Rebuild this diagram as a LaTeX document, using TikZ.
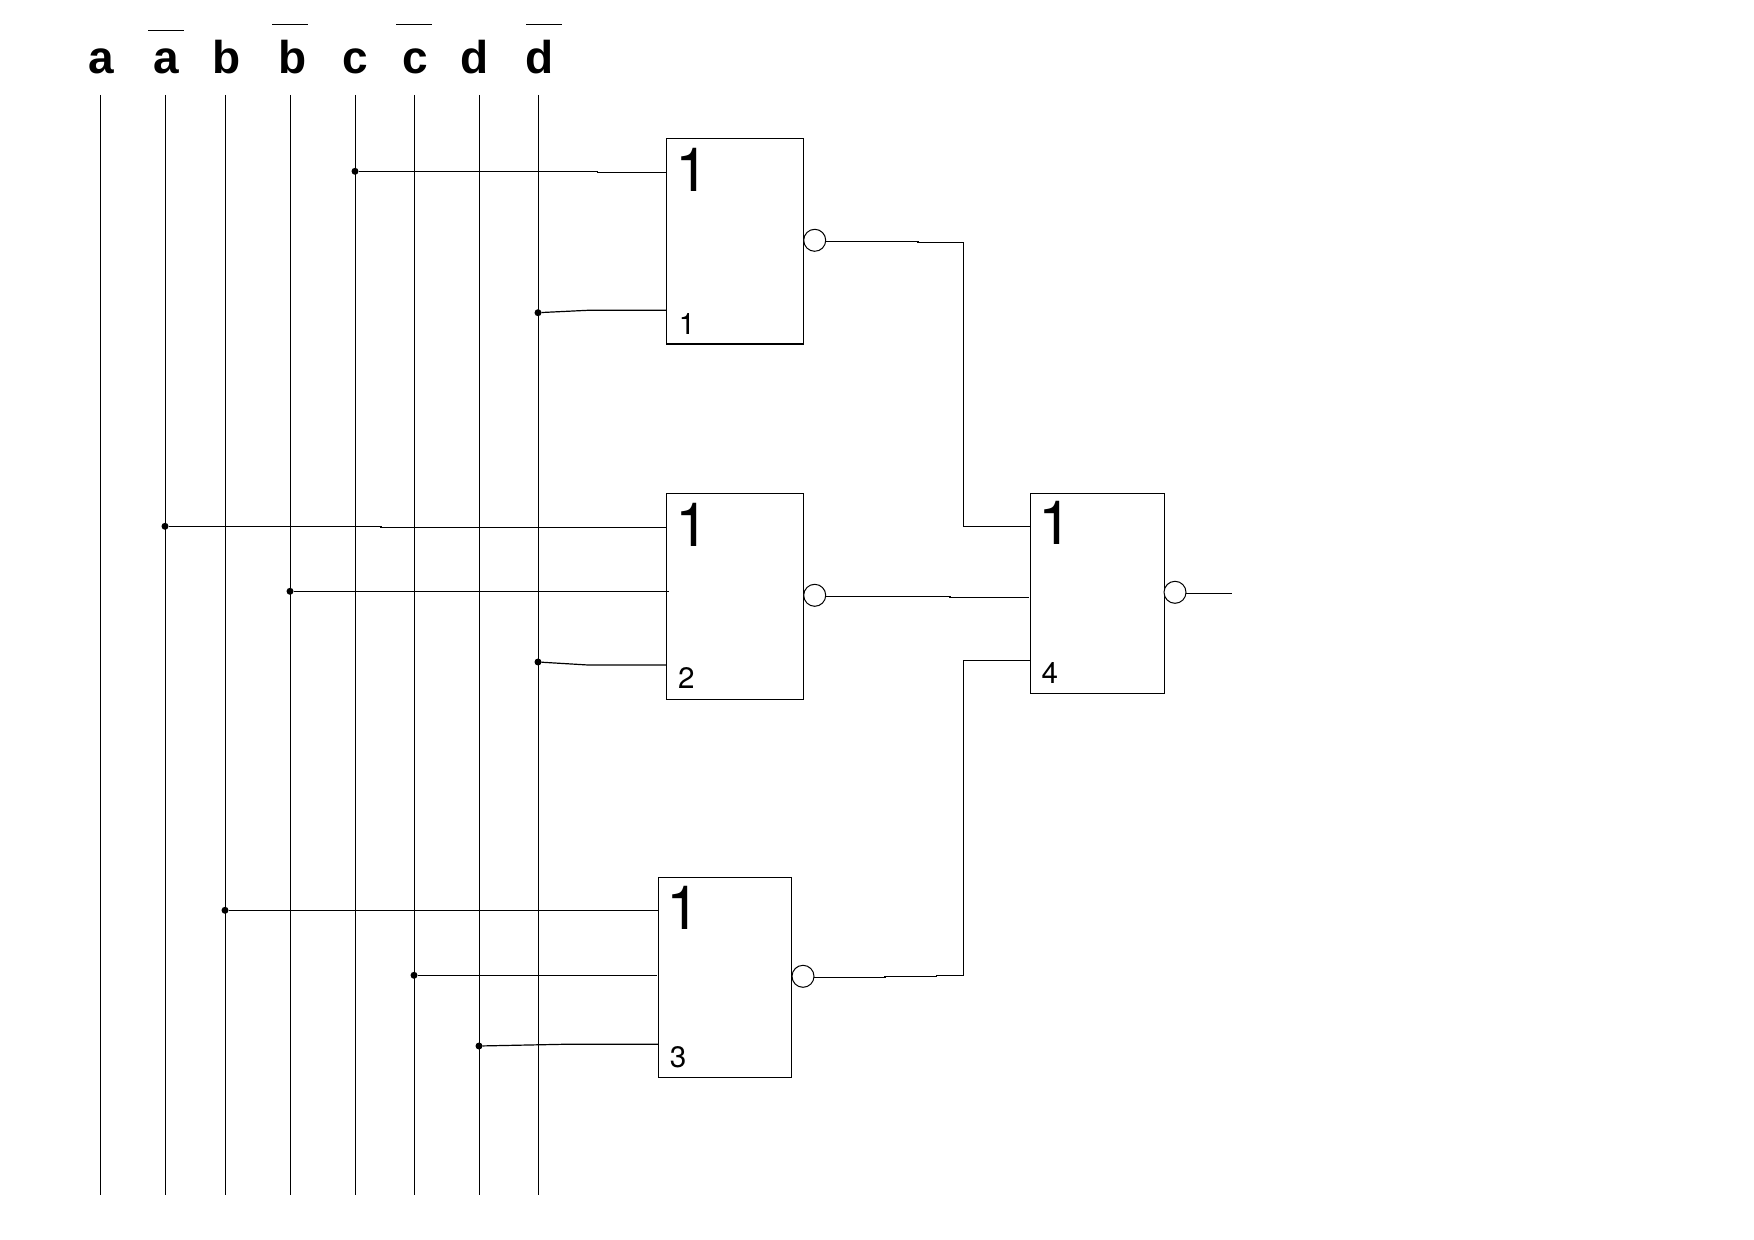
\documentclass[tikz,border=0pt]{standalone}
\usepackage{fontspec}
\setmainfont{Liberation Sans}
\newfontfamily\gatefont{TeX Gyre Heros}
\usetikzlibrary{positioning}
\tikzset{
  railwire/.style  = {draw=black, line width=0.6pt},
  wire/.style      = {draw=black, line width=0.6pt, line join=miter},
  overbar/.style   = {draw=black, line width=0.6pt},
  wiredot/.style   = {circle, fill=black, minimum size=3.5pt, inner sep=0pt, outer sep=0pt},
  bubble/.style    = {circle, draw=black, fill=white, line width=0.5pt,
                      minimum size=11pt, inner sep=0pt, outer sep=0pt},
  gatewide/.style  = {rectangle, draw=black, line width=0.6pt, minimum width=68.7pt,
                      minimum height=102.9pt, inner sep=0pt, outer sep=0pt},
  gatenarrow/.style= {gatewide, minimum width=66.8pt, minimum height=100pt},
  gateone/.style   = {font=\gatefont\fontsize{30.5}{33}\selectfont, anchor=base, inner sep=0pt},
  gatenum/.style   = {font=\gatefont\fontsize{14.8}{17}\selectfont, anchor=base, inner sep=0pt},
  railname/.style  = {font=\fontsize{23}{25}\selectfont\bfseries, anchor=base, inner sep=0pt},
}
\begin{document}
\begin{tikzpicture}[x=0.5pt, y=-0.5pt]
  \useasboundingbox (0,0) rectangle (1754,1240);
  % input names
  \node[railname] (namea)  at (101.7,73.3) {a};
  \node[railname] (nameab) at (166.7,73.3) {a};
  \node[railname] (nameb)  at (227,73.3) {b};
  \node[railname] (namebb) at (292.5,73.3) {b};
  \node[railname] (namec)  at (355.7,73.3) {c};
  \node[railname] (namecb) at (415,73.3) {c};
  \node[railname] (named)  at (475,73.3) {d};
  \node[railname] (namedb) at (539.3,73.3) {d};
  \coordinate (barab1) at (148,30.3);
  \coordinate (barab2) at (184,30.3);
  \coordinate (barbb1) at (272,24.3);
  \coordinate (barbb2) at (308,24.3);
  \coordinate (barcb1) at (396,24.3);
  \coordinate (barcb2) at (432,24.3);
  \coordinate (bardb1) at (526,24.3);
  \coordinate (bardb2) at (562,24.3);
  \draw[overbar] (barab1) -- (barab2);
  \draw[overbar] (barbb1) -- (barbb2);
  \draw[overbar] (barcb1) -- (barcb2);
  \draw[overbar] (bardb1) -- (bardb2);
  % rails
  \coordinate (topa)  at (100.3,95);
  \coordinate (bota)  at (100.3,1194.7);
  \coordinate (topab) at (165.3,95);
  \coordinate (botab) at (165.3,1194.7);
  \coordinate (topb)  at (225.3,95);
  \coordinate (botb)  at (225.3,1194.7);
  \coordinate (topbb) at (290.3,95);
  \coordinate (botbb) at (290.3,1194.7);
  \coordinate (topc)  at (355.3,95);
  \coordinate (botc)  at (355.3,1194.7);
  \coordinate (topcb) at (414.3,95);
  \coordinate (botcb) at (414.3,1194.7);
  \coordinate (topd)  at (479.3,95);
  \coordinate (botd)  at (479.3,1194.7);
  \coordinate (topdb) at (538.3,95);
  \coordinate (botdb) at (538.3,1194.7);
  \draw[railwire] (topa) -- (bota);
  \draw[railwire] (topab) -- (botab);
  \draw[railwire] (topb) -- (botb);
  \draw[railwire] (topbb) -- (botbb);
  \draw[railwire] (topc) -- (botc);
  \draw[railwire] (topcb) -- (botcb);
  \draw[railwire] (topd) -- (botd);
  \draw[railwire] (topdb) -- (botdb);
  % gates
  \node[gatewide]   (gatea) at (735,241.15) {};
  \node[gatewide]   (gateb) at (735,596.3) {};
  \node[gatenarrow] (gatec) at (725,977.3) {};
  \node[gatenarrow] (gated) at (1097.3,593.3) {};
  \node[gateone] (onea) at (692,192) {1};
  \node[gateone] (oneb) at (692,546) {1};
  \node[gateone] (onec) at (683,929.7) {1};
  \node[gateone] (oned) at (1055,544.3) {1};
  \node[gatenum] (numa) at (687,334.7) {1};
  \node[gatenum] (numb) at (686.3,688.7) {2};
  \node[gatenum] (numc) at (678,1067.7) {3};
  \node[gatenum] (numd) at (1049.8,683.7) {4};
  \node[bubble] (bubblea) at (814.7,240.3) {};
  \node[bubble] (bubbleb) at (814.7,595.3) {};
  \node[bubble] (bubblec) at (803,976.3) {};
  \node[bubble] (bubbled) at (1175,592.3) {};
  % taps on the rails
  \node[wiredot] (tapc)  at (355,171.3) {};
  \node[wiredot] (tapdb) at (538,312.7) {};
  \node[wiredot] (tapab) at (165,526.3) {};
  \node[wiredot] (tapbb) at (290,591.3) {};
  \node[wiredot] (tapdc) at (538,662) {};
  \node[wiredot] (tapb)  at (225,910.3) {};
  \node[wiredot] (tapcb) at (414,975.3) {};
  \node[wiredot] (tapd)  at (479,1046) {};
  % gate inputs
  \coordinate (ina1) at (597.5,171.3);
  \coordinate (ina2) at (597.5,172.3);
  \coordinate (ina3) at (gatea.west |- ina2);
  \coordinate (inb1) at (588,310.3);
  \coordinate (inb2) at (gatea.west |- inb1);
  \coordinate (inc1) at (381,526.3);
  \coordinate (inc2) at (381,527.3);
  \coordinate (inc3) at (gateb.west |- inc2);
  \coordinate (ind1) at (669,591.3);
  \coordinate (ine1) at (588,665);
  \coordinate (ine2) at (gateb.west |- ine1);
  \coordinate (inf1) at (gatec.west |- 0,910.3);
  \coordinate (ing1) at (656.7,975.3);
  \coordinate (inh1) at (563,1044.3);
  \coordinate (inh2) at (gatec.west |- inh1);
  \draw[wire] (tapc) -- (ina1) -- (ina2) -- (ina3);
  \draw[wire] (tapdb) -- (inb1) -- (inb2);
  \draw[wire] (tapab) -- (inc1) -- (inc2) -- (inc3);
  \draw[wire] (tapbb) -- (ind1);
  \draw[wire] (tapdc) -- (ine1) -- (ine2);
  \draw[wire] (tapb) -- (inf1);
  \draw[wire] (tapcb) -- (ing1);
  \draw[wire] (tapd) -- (inh1) -- (inh2);
  % gate outputs
  \coordinate (outa0) at (825.7,241.3);
  \coordinate (outa1) at (918,241.3);
  \coordinate (outa2) at (918,242.3);
  \coordinate (outa3) at (963.3,242.3);
  \coordinate (outa4) at (963.3,526.3);
  \coordinate (outa5) at (gated.west |- outa4);
  \coordinate (outb0) at (825.7,596.3);
  \coordinate (outb1) at (950,596.3);
  \coordinate (outb2) at (950,597.3);
  \coordinate (outb3) at (1029,597.3);
  \coordinate (outc0) at (814,977.3);
  \coordinate (outc1) at (885,977.3);
  \coordinate (outc2) at (885,976.7);
  \coordinate (outc3) at (936.7,976.7);
  \coordinate (outc4) at (936.7,975.7);
  \coordinate (outc5) at (963.3,975.7);
  \coordinate (outc6) at (963.3,660.3);
  \coordinate (outc7) at (gated.west |- outc6);
  \coordinate (outd0) at (1186,593.3);
  \coordinate (outd1) at (1231.7,593.3);
  \draw[wire] (outa0) -- (outa1) -- (outa2) -- (outa3) -- (outa4) -- (outa5);
  \draw[wire] (outb0) -- (outb1) -- (outb2) -- (outb3);
  \draw[wire] (outc0) -- (outc1) -- (outc2) -- (outc3) -- (outc4) -- (outc5) -- (outc6) -- (outc7);
  \draw[wire] (outd0) -- (outd1);
\end{tikzpicture}
\end{document}
